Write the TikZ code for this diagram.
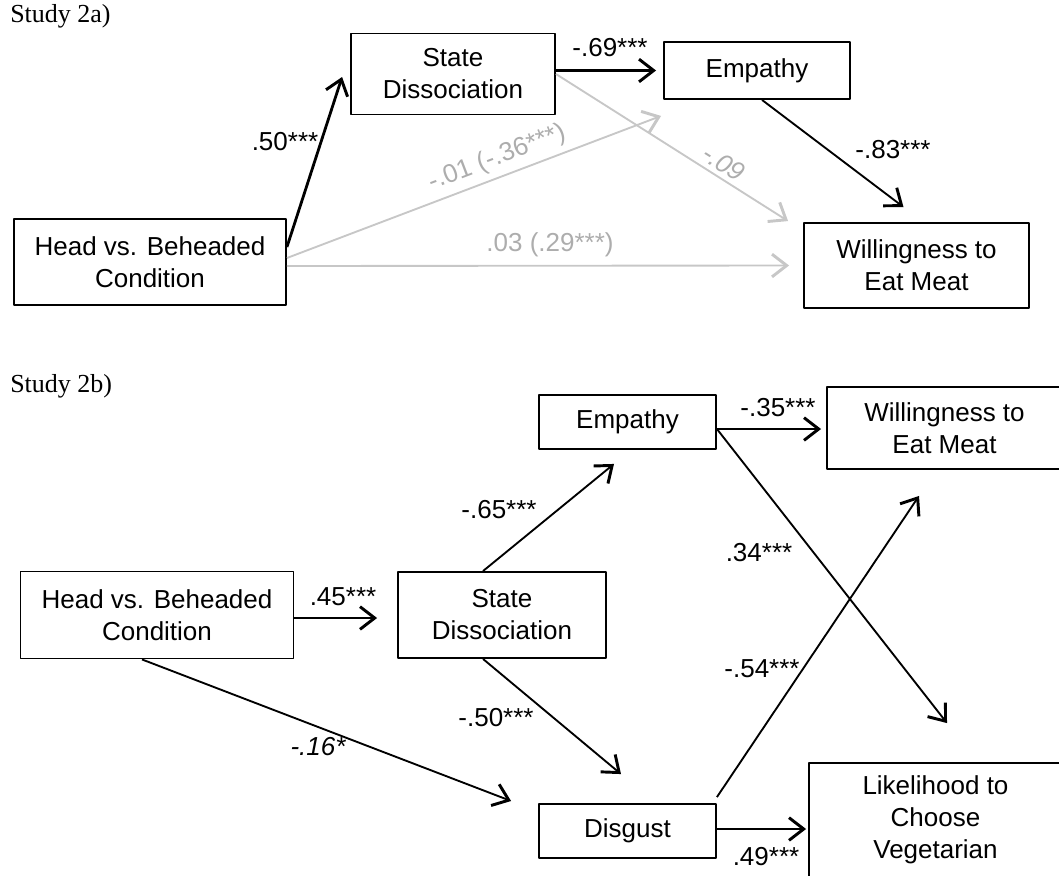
\documentclass[tikz,border=0pt]{standalone}
\usepackage{fontspec}
\setmainfont{Liberation Sans}
\newfontfamily\studyfont{Liberation Serif}
\usetikzlibrary{arrows.meta, calc}

\begin{document}
\begin{tikzpicture}[x=0.75pt, y=-0.75pt, font=\fontsize{19.5}{24}\selectfont, line join=round,
    box/.style={draw, line width=1.4pt, align=center, inner sep=0pt},
    link/.style={-{Straight Barb[length=11pt, width=17pt, line width=2.2pt]}, line width=1.4pt},
    boldlink/.style={link, line width=2.1pt},
    faint/.style={link, draw=black!22},
    lbl/.style={inner sep=0pt},
    faintlbl/.style={lbl, text=black!32}]

    % page as in the reference, 1059 x 875 px
    \useasboundingbox (0,0) rectangle (1059,875);

    % ---------- Study 2a ----------
    \node[anchor=west, inner sep=0pt, font=\fontsize{19.5}{24}\studyfont] (title1) at (10,16) {Study 2a)};

    \node[box, minimum width=204pt, minimum height=64.5pt] (head1) at (150,262) {Head vs. Beheaded\\Condition};
    \node[box, minimum width=153pt, minimum height=60.75pt] (dis1) at (453,74) {State\\Dissociation};
    \node[box, minimum width=139.5pt, minimum height=42.75pt] (emp1) at (757,70.5) {Empathy};
    \node[box, minimum width=168.75pt, minimum height=63.75pt] (will1) at (916.5,265.5) {Willingness to\\Eat Meat};

    % direct and indirect effects (grey)
    \draw[faint] ($(head1.east)+(0,-4)$) -- ($(emp1.south west)+(-2,16)$);
    \draw[faint] (dis1.east) -- ($(will1.north west)+(-15,-1)$);
    \draw[faint] ($(head1.east)+(0,4)$) -- ($(will1.west)+(-14,0)$);

    % significant paths
    \draw[boldlink] ($(head1.east)+(0,-15)$) -- ($(dis1.west)+(-8,3)$);
    \draw[boldlink] (dis1.east |- emp1.west) -- ($(emp1.west)+(-7,0)$);
    \draw[link] ($(emp1.south)+(5,0)$) -- ($(will1.north)+(-13,-15)$);

    \node[lbl] (b1) at (285,142) {.50***};
    \node[lbl] (b2) at (610,48) {-.69***};
    \node[lbl] (b3) at (893,150) {-.83***};
    \node[faintlbl, rotate=20.9] (b4) at (497,158) {-.01 (-.36***)};
    \node[faintlbl, rotate=-32.3, font=\fontsize{19.5}{24}\itshape] (b5) at (724,163) {-.09};
    \node[faintlbl] (b6) at (550,245) {.03 (.29***)};

    % ---------- Study 2b ----------
    \node[anchor=west, inner sep=0pt, font=\fontsize{19.5}{24}\studyfont] (title2) at (10,386) {Study 2b)};

    \node[box, minimum width=204.75pt, minimum height=65.25pt] (head2) at (157,615) {Head vs. Beheaded\\Condition};
    \node[box, minimum width=156pt, minimum height=64.5pt] (dis2) at (502,615) {State\\Dissociation};
    \node[box, minimum width=132.75pt, minimum height=40.5pt] (emp2) at (627.5,422) {Empathy};
    \node[box, minimum width=132.75pt, minimum height=40.5pt] (dsg2) at (627.5,831) {Disgust};
    \node[box, minimum width=176.25pt, minimum height=61.5pt] (will2) at (944.5,428) {Willingness to\\Eat Meat};
    \node[box, minimum width=189.75pt, minimum height=85.5pt] (veg2) at (935.5,820) {Likelihood to\\Choose\\Vegetarian};

    \draw[boldlink] ($(head2.east)+(0,3)$) -- ($(dis2.west)+(-20,3)$);
    \draw[link] ($(dis2.north)+(-19,0)$) -- ($(emp2.south)+(-13.5,14)$);
    \draw[link] ($(dis2.south)+(-19,0)$) -- ($(dsg2.north)+(-6.5,-29)$);
    \draw[link] ($(head2.south)+(-15,0)$) -- ($(dsg2.west)+(-27,-30)$);
    \draw[boldlink] ($(emp2.east)+(0,7)$) -- ($(will2.west)+(-5,1)$);
    \draw[link] ($(emp2.east)+(0,7)$) -- ($(veg2.north)+(11.5,-39)$);
    \draw[link] ($(dsg2.north east)+(0,-6)$) -- ($(will2.south)+(-25.5,26)$);
    \draw[boldlink] ($(dsg2.east)+(0,-2)$) -- ($(veg2.west)+(-2,9)$);

    \node[lbl] (c1) at (343,597) {.45***};
    \node[lbl] (c2) at (499,510) {-.65***};
    \node[lbl] (c3) at (496,718) {-.50***};
    \node[lbl, font=\fontsize{19.5}{24}\itshape] (c4) at (318,747) {-.16*};
    \node[lbl] (c5) at (778,408) {-.35***};
    \node[lbl] (c6) at (759,553) {.34***};
    \node[lbl] (c7) at (762,669) {-.54***};
    \node[lbl] (c8) at (766,857) {.49***};

\end{tikzpicture}
\end{document}
